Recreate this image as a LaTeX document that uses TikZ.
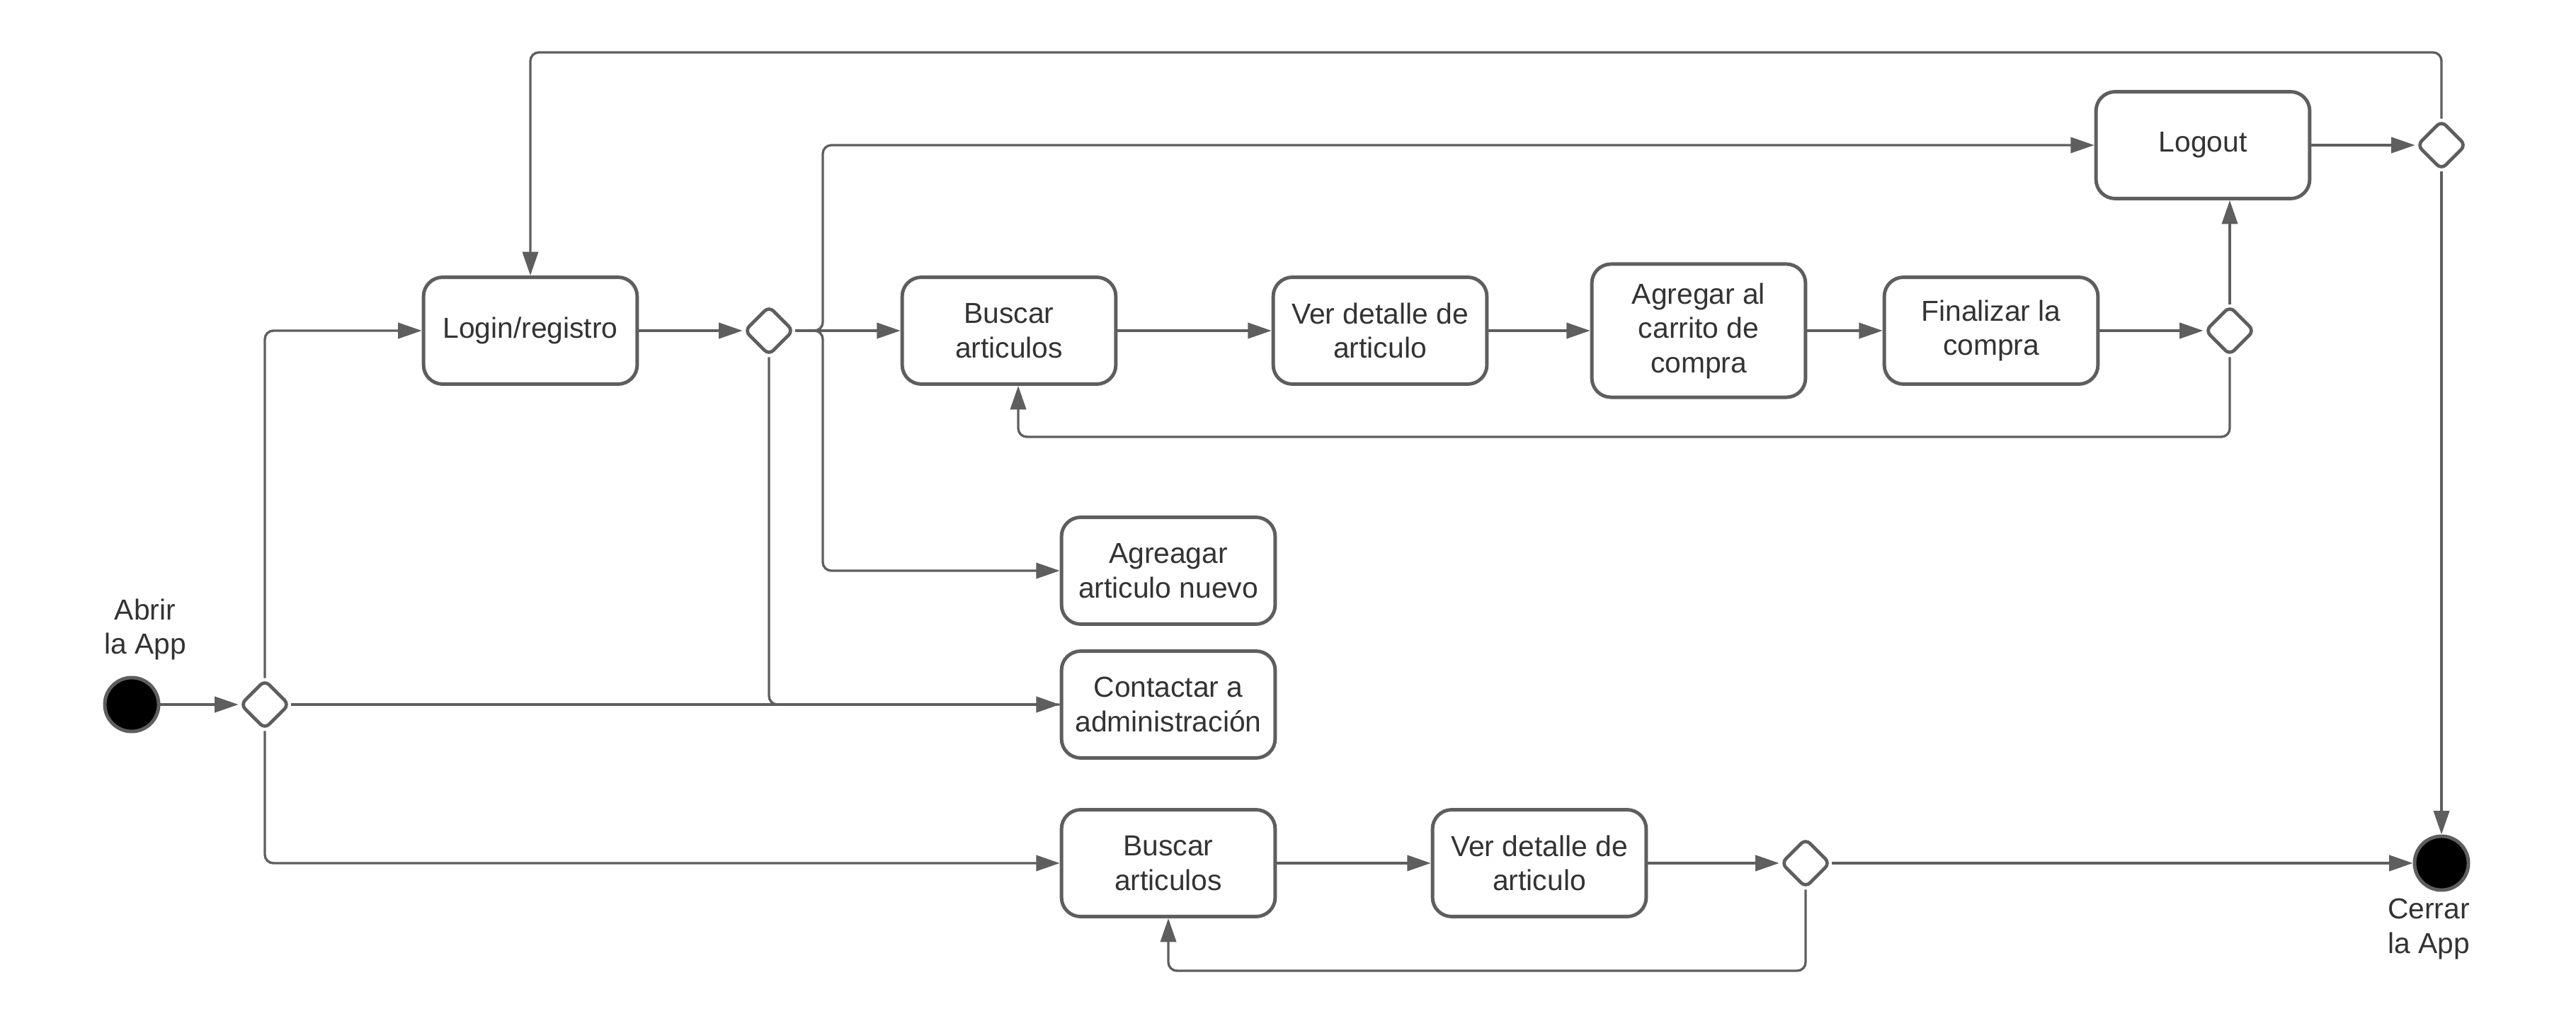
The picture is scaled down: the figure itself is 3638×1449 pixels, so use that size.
\documentclass[tikz,border=0pt]{standalone}
\usepackage{fontspec}
\setmainfont{Liberation Sans}
\usetikzlibrary{shapes.geometric,arrows.meta,calc}
\definecolor{ln}{HTML}{5E5E5E}
\definecolor{tx}{HTML}{333333}
\tikzset{
  act/.style={draw=ln, line width=1.4pt, rounded corners=0.27cm, fill=white,
    minimum width=3.016cm, minimum height=1.508cm, align=center, text=tx,
    font=\fontsize{11.6pt}{13.8pt}\selectfont, inner sep=2pt},
  dec/.style={draw=ln, line width=1.35pt, diamond, rounded corners=2.5pt, fill=white,
    minimum width=0.7cm, minimum height=0.7cm, inner sep=0pt},
  term/.style={draw=ln, line width=1.4pt, circle, fill=black, minimum size=0.76cm, inner sep=0pt},
  lbl/.style={align=center, text=tx, font=\fontsize{11.6pt}{13.8pt}\selectfont},
  conn/.style={draw=ln, line width=0.95pt, rounded corners=0.12cm},
  arr/.style={conn, -{Triangle[length=9.5pt,width=6.3pt]}},
  thk/.style={line width=1.15pt}
}
\begin{document}
\begin{tikzpicture}[x=0.01cm,y=-0.01cm]
\useasboundingbox (0,0) rectangle (3638,1449);
% nodes
\node[term] (start) at (186,995) {};
\node[lbl] (startlbl) at (205,889) {Abrir\\la App};
\node[dec] (D1) at (374,995) {};
\node[act] (login) at (749,467) {Login/registro};
\node[dec] (D2) at (1086,467) {};
\coordinate (J) at (1162,467);
\node[act] (B1) at (1425,467) {Buscar\\articulos};
\node[act] (V1) at (1949,467) {Ver detalle de\\articulo};
\node[act, minimum height=1.88cm] (A1) at (2399,467) {Agregar al\\carrito de\\compra};
\node[act] (F1) at (2812,467) {Finalizar la\\compra};
\node[dec] (D3) at (3149,467) {};
\node[act] (logout) at (3111,205) {Logout};
\node[dec] (D4) at (3448,205) {};
\node[act] (nuevo) at (1650,806) {Agreagar\\articulo nuevo};
\node[act] (contact) at (1650,995) {Contactar a\\administración};
\node[act] (B2) at (1650,1219) {Buscar\\articulos};
\node[act] (V2) at (2174,1219) {Ver detalle de\\articulo};
\node[dec] (D5) at (2550,1219) {};
\node[term] (end) at (3448,1219) {};
\node[lbl] (endlbl) at (3430,1312) {Cerrar\\la App};
\coordinate (T) at (3448,74);
\coordinate (L1) at (1438,617);
\coordinate (L2) at (1650,1371);
% connectors
\draw[arr] (start) -- (D1.west);
\draw[arr] (D1.north) |- (login.west);
\draw[arr, thk] (D1.east) -- (contact.west);
\draw[arr] (D1.south) |- (B2.west);
\draw[arr] (login) -- (D2.west);
\draw[conn] (D2.south) |- (contact.west);
\draw[arr] (D2.east) -- (B1.west);
\draw[arr] (D2.east) -- (J) |- (logout.west);
\draw[arr] (D2.east) -- (J) |- (nuevo.west);
\draw[arr] (B1) -- (V1);
\draw[arr] (V1) -- (A1);
\draw[arr] (A1) -- (F1);
\draw[arr] (F1) -- (D3.west);
\draw[arr] (D3.north) -- (D3.north |- logout.south);
\draw[arr] (D3.south) |- (L1) -- (L1 |- B1.south);
\draw[arr] (logout) -- (D4.west);
\draw[arr] (D4.north) -- (T) -| (login.north);
\draw[arr] (D4.south) -- (end.north);
\draw[arr] (B2) -- (V2);
\draw[arr] (V2) -- (D5.west);
\draw[arr, thk] (D5.east) -- (end.west);
\draw[arr] (D5.south) |- (L2) -- (B2.south);
\end{tikzpicture}
\end{document}
